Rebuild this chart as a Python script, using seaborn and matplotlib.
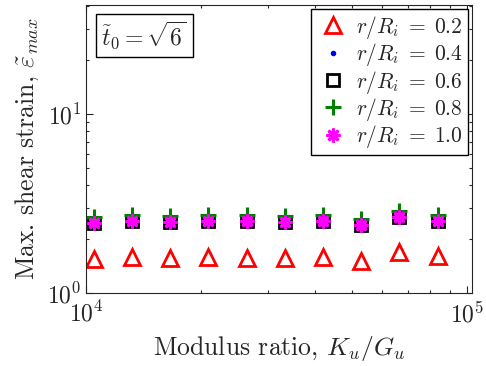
import numpy as np
import pandas as pd
import matplotlib
matplotlib.use("Agg")
import matplotlib.pyplot as plt
import seaborn as sns

# data
modulus_ratio = [1.05e4, 1.32e4, 1.66e4, 2.09e4, 2.64e4, 3.32e4, 4.19e4, 5.27e4, 6.64e4, 8.37e4]
strain_02 = [1.56, 1.60, 1.57, 1.60, 1.58, 1.57, 1.60, 1.51, 1.69, 1.61]
strain_04 = [2.40, 2.45, 2.42, 2.45, 2.45, 2.42, 2.45, 2.33, 2.58, 2.45]
strain_06 = [2.47, 2.52, 2.49, 2.52, 2.52, 2.49, 2.52, 2.39, 2.65, 2.52]
strain_08 = [2.67, 2.73, 2.69, 2.73, 2.73, 2.69, 2.73, 2.59, 2.88, 2.73]
strain_10 = [2.48, 2.54, 2.50, 2.54, 2.54, 2.50, 2.54, 2.40, 2.67, 2.54]
labels = ["0.2", "0.4", "0.6", "0.8", "1.0"]

sns.set_style("ticks")
plt.rcParams["font.family"] = ["cmr10"]
plt.rcParams["mathtext.fontset"] = "cm"
plt.rcParams["axes.formatter.use_mathtext"] = True
plt.rcParams["axes.unicode_minus"] = False

fig = plt.figure(figsize=(4.86, 3.66), dpi=100)
ax = fig.add_axes([0.177, 0.199, 0.794, 0.787])

styles = [
    dict(marker="^", ms=12, mfc="none", mec="red", mew=2),
    dict(marker="o", ms=4, mfc="blue", mec="blue", mew=0),
    dict(marker="s", ms=8, mfc="none", mec="black", mew=2),
    dict(marker="+", ms=11, mfc="none", mec="green", mew=2.2),
    dict(marker=(8, 2, 0), ms=10, mfc="none", mec="magenta", mew=2),
]
series = [strain_02, strain_04, strain_06, strain_08, strain_10]

for vals, lab, st in zip(series, labels, styles):
    df = pd.DataFrame({"x": modulus_ratio, "y": vals})
    sns.lineplot(data=df, x="x", y="y", ax=ax, linestyle="", label=f"$r/R_i\\;=\\;{lab}$", **st)

ax.set_xscale("log")
ax.set_yscale("log")
ax.set_xlim(1e4, 1.03e5)
ax.set_ylim(1, 40.6)

ax.tick_params(which="both", direction="in", top=True, right=True, labelsize=17, width=0.8)
ax.tick_params(which="major", length=5)
ax.tick_params(which="minor", length=2.5)
ax.tick_params(axis="x", pad=6)
for s in ax.spines.values():
    s.set_linewidth(0.8)
    s.set_color("0.15")

ax.set_xlabel("Modulus ratio, $K_u/G_u$", fontsize=18.5, labelpad=5)
ax.set_ylabel("Max. shear strain, $\\tilde{\\varepsilon}_{max}$", fontsize=18.5, labelpad=4)

ax.legend(loc="upper right", fontsize=15.5, frameon=True, fancybox=False,
          edgecolor="black", framealpha=1, handletextpad=0.3, borderpad=0.2,
          labelspacing=0.02, handlelength=1.6, borderaxespad=0.2)

ax.text(0.04, 0.95, "$\\tilde{t}_0 = \\sqrt{6}$", transform=ax.transAxes, fontsize=17,
        va="top", ha="left",
        bbox=dict(boxstyle="square,pad=0.25", fc="white", ec="black", lw=1))

fig.savefig("out.png", dpi=100)
